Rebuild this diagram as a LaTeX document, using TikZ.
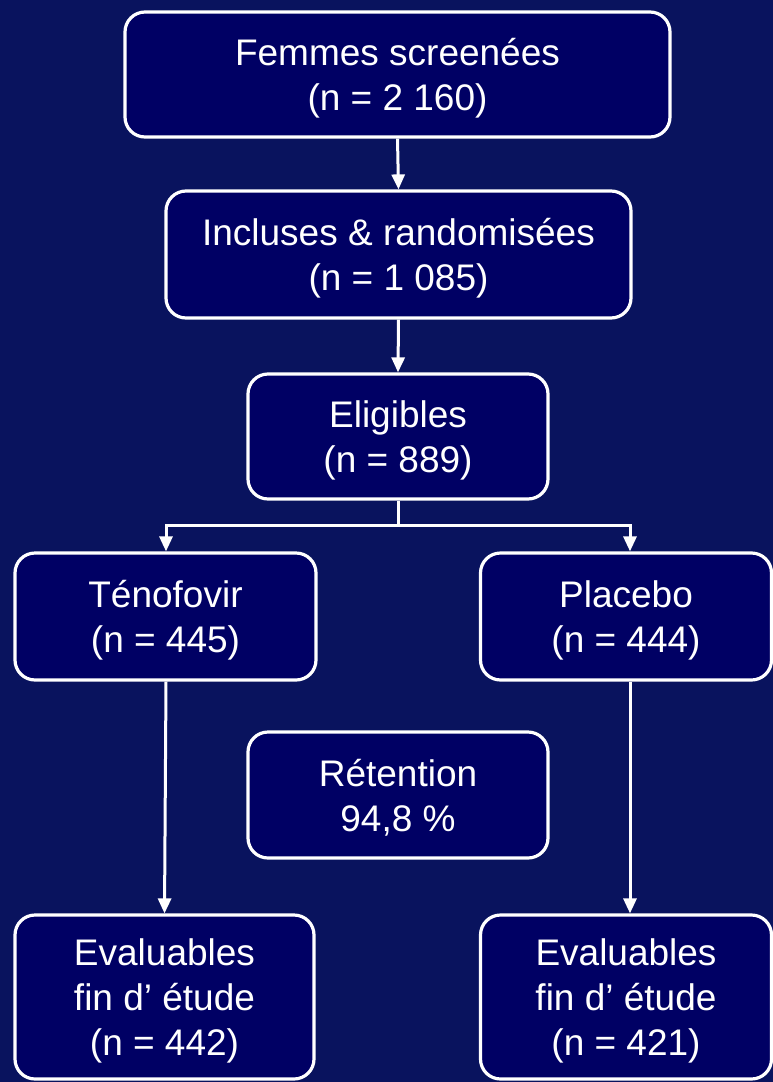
\documentclass[tikz,border=0pt]{standalone}
\usepackage{fontspec}
\setmainfont{Liberation Sans}
\usetikzlibrary{arrows.meta}
\definecolor{bgnavy}{RGB}{9,19,94}
\definecolor{boxnavy}{RGB}{0,0,100}
\begin{document}
\begin{tikzpicture}[x=1pt,y=-1pt,
  flowbox/.style={draw=white, line width=3.2pt, fill=boxnavy, rounded corners=20pt,
    text=white, align=center, font=\fontsize{37}{45}\selectfont, inner sep=0pt,
    text depth=0pt},
  conn/.style={draw=white, line width=3pt},
  arr/.style={conn, -{Triangle[length=15pt,width=13pt]}}]
\fill[bgnavy] (0,0) rectangle (773,1082);
\useasboundingbox (0,0) rectangle (773,1082);
\node[flowbox, minimum width=545pt, minimum height=125pt] (screen) at (397.5,74.5)
  {Femmes screenées\\(n = 2 160)};
\node[flowbox, minimum width=465pt, minimum height=127pt] (incl) at (398.5,254.5)
  {Incluses \& randomisées\\(n = 1 085)};
\node[flowbox, minimum width=300pt, minimum height=125pt] (elig) at (398,436.5)
  {Eligibles\\(n = 889)};
\node[flowbox, minimum width=301pt, minimum height=127pt] (teno) at (165.5,616.5)
  {Ténofovir\\(n = 445)};
\node[flowbox, minimum width=291pt, minimum height=127pt] (plac) at (626,616.5)
  {Placebo\\(n = 444)};
\node[flowbox, minimum width=300pt, minimum height=126pt] (ret) at (398,795)
  {Rétention\\94,8 \%};
\node[flowbox, minimum width=299pt, minimum height=164pt] (evalL) at (164.5,997)
  {Evaluables\\fin d’ étude\\(n = 442)};
\node[flowbox, minimum width=291pt, minimum height=164pt] (evalR) at (626,997)
  {Evaluables\\fin d’ étude\\(n = 421)};
\coordinate (split) at (398,525);
\draw[arr] (screen.south) -- (incl.north);
\draw[arr] (incl.south) -- (elig.north);
\draw[conn] (elig.south) -- (split);
\draw[arr] (split) -| ([xshift=0.5pt]teno.north);
\draw[arr] (split) -| ([xshift=4pt]plac.north);
\draw[arr] ([xshift=0.5pt]teno.south) -- (evalL.north);
\draw[arr] ([xshift=4pt]plac.south) -- ([xshift=4pt]evalR.north);
\end{tikzpicture}
\end{document}
